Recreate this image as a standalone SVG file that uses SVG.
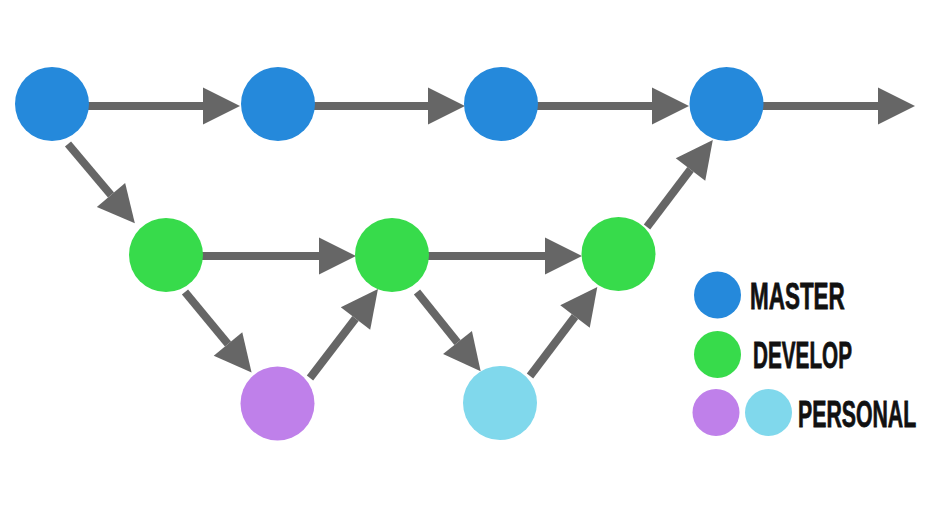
<svg xmlns="http://www.w3.org/2000/svg" width="950" height="506" viewBox="0 0 950 506">
<style>
.edge{stroke:#666666;stroke-width:8;fill:none;marker-end:url(#ah)}
.master{fill:#2589DB}
.develop{fill:#37DB4B}
.purple{fill:#BF80EA}
.cyan{fill:#80D8EC}
.lbl{font-family:"Liberation Sans",Arial,sans-serif;font-weight:bold;font-size:37px;fill:#111111;stroke:#111111;stroke-width:0.8}
</style>
<defs>
<marker id="ah" markerUnits="userSpaceOnUse" markerWidth="38" markerHeight="38" refX="0" refY="18.5" orient="auto" overflow="visible">
<path d="M0,0 L37,18.5 L0,37 Z" fill="#666666"/>
</marker>
</defs>
<rect width="950" height="506" fill="#ffffff"/>
<g id="connectors">
<line class="edge" x1="86" y1="106" x2="203" y2="106"/>
<line class="edge" x1="312" y1="106" x2="428" y2="106"/>
<line class="edge" x1="536" y1="106" x2="652" y2="106"/>
<line class="edge" x1="761" y1="106" x2="878" y2="106"/>
<line class="edge" x1="201" y1="256" x2="319" y2="256"/>
<line class="edge" x1="427" y1="256" x2="545" y2="256"/>
<line class="edge" x1="68" y1="144" x2="111" y2="195"/>
<line class="edge" x1="185" y1="292" x2="228" y2="344"/>
<line class="edge" x1="310" y1="378" x2="355.5" y2="318.5"/>
<line class="edge" x1="417" y1="292" x2="457.5" y2="342.5"/>
<line class="edge" x1="530" y1="376" x2="575" y2="316.5"/>
<line class="edge" x1="647" y1="227" x2="690.5" y2="169.5"/>
</g>
<g id="m1"><circle class="master" cx="52" cy="104" r="37"/></g>
<g id="m2"><circle class="master" cx="278" cy="104" r="37"/></g>
<g id="m3"><circle class="master" cx="501" cy="104" r="37"/></g>
<g id="m4"><circle class="master" cx="726.5" cy="104" r="37"/></g>
<g id="d1"><circle class="develop" cx="166" cy="255" r="37"/></g>
<g id="d2"><circle class="develop" cx="392" cy="255" r="37"/></g>
<g id="d3"><circle class="develop" cx="618.5" cy="254" r="37"/></g>
<g id="p1"><circle class="purple" cx="277.5" cy="403.5" r="37"/></g>
<g id="p2"><circle class="cyan" cx="500" cy="403" r="37"/></g>
<g id="legend-master">
<circle class="master" cx="717.5" cy="295" r="23.5"/>
<text class="lbl" transform="translate(750,309) scale(0.6,1)" x="0" y="0" textLength="158" lengthAdjust="spacingAndGlyphs">MASTER</text>
</g>
<g id="legend-develop">
<circle class="develop" cx="717.5" cy="354.5" r="23.5"/>
<text class="lbl" transform="translate(753,368) scale(0.6,1)" x="0" y="0" textLength="165" lengthAdjust="spacingAndGlyphs">DEVELOP</text>
</g>
<g id="legend-personal">
<circle class="purple" cx="716" cy="412.5" r="23.5"/>
<circle class="cyan" cx="768.5" cy="412.5" r="23.5"/>
<text class="lbl" transform="translate(798,427) scale(0.6,1)" x="0" y="0" textLength="197" lengthAdjust="spacingAndGlyphs">PERSONAL</text>
</g>
</svg>
